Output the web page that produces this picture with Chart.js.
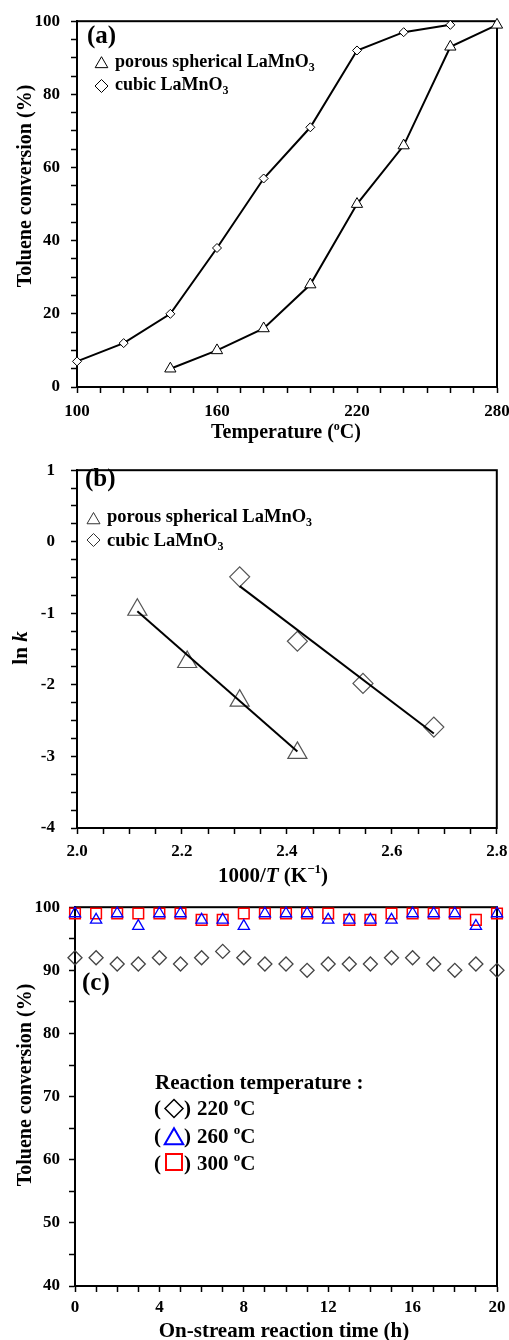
<!DOCTYPE html>
<html><head><meta charset="utf-8">
<script src="https://cdn.jsdelivr.net/npm/chart.js@4.4.1/dist/chart.umd.min.js"></script>
<style>
html,body{margin:0;padding:0;background:#fff;width:509px;height:1340px;overflow:hidden;}
.box{position:absolute;left:0;width:509px;}
canvas{display:block;}
</style></head><body>
<div class="box" style="top:0;height:448px"><canvas id="ca"></canvas></div>
<div class="box" style="top:444px;height:446px"><canvas id="cb"></canvas></div>
<div class="box" style="top:888px;height:452px"><canvas id="cc"></canvas></div>
<script>
// ---------- DATA ----------
// (a) light-off curves
const cubicTemp = [100, 120, 140, 160, 180, 200, 220, 240, 260];
const cubicConv = [7, 12, 20, 38, 57, 71, 92, 97, 99];
const porousTemp = [140, 160, 180, 200, 220, 240, 260, 280];
const porousConv = [5, 10, 16, 28, 50, 66, 93, 99];
// (b) Arrhenius plots
const porousInvT = [2.115, 2.21, 2.31, 2.42];
const porousLnK = [-0.95, -1.68, -2.22, -2.95];
const cubicInvT = [2.31, 2.42, 2.545, 2.68];
const cubicLnK = [-0.49, -1.39, -1.98, -2.59];
const porousFitX = [2.115, 2.42];
const porousFitY = [-0.97, -2.93];
const cubicFitX = [2.31, 2.68];
const cubicFitY = [-0.62, -2.68];
// (c) stability test
const hours = [0,1,2,3,4,5,6,7,8,9,10,11,12,13,14,15,16,17,18,19,20];
const conv220 = [92,92,91,91,92,91,92,93,92,91,91,90,91,91,91,92,92,91,90,91,90];
const conv260 = [99,98,99,97,99,99,98,98,97,99,99,99,98,98,98,98,99,99,99,97,99];
const conv300 = [99,99,99,99,99,99,98,98,99,99,99,99,99,98,98,99,99,99,99,98,99];

// ---------- HELPERS ----------
const SERIF = "'Liberation Serif','Times New Roman',serif";
const fnt = (s, i) => (i ? 'italic ' : '') + 'bold ' + s + 'px ' + SERIF;
const pts = (xs, ys) => xs.map((x, i) => ({x: x, y: ys[i]}));

function drawRich(ctx, parts, x, y, align) {
  let w = 0;
  for (const p of parts) { ctx.font = fnt(p.s, p.i); p.w = ctx.measureText(p.t).width; w += p.w; }
  let cx = align === 'center' ? x - w / 2 : x;
  ctx.textAlign = 'left'; ctx.textBaseline = 'alphabetic';
  for (const p of parts) { ctx.font = fnt(p.s, p.i); ctx.fillStyle = p.c || '#000'; ctx.fillText(p.t, cx, y + (p.dy || 0)); cx += p.w; }
  return cx;
}
function drawRotated(ctx, parts, cx, cy, baseX) {
  ctx.save(); ctx.translate(baseX, cy); ctx.rotate(-Math.PI / 2);
  drawRich(ctx, parts, 0, 0, 'center'); ctx.restore();
}
function sym(ctx, type, x, y, r, color, lw) {
  ctx.save(); ctx.strokeStyle = color; ctx.lineWidth = lw; ctx.beginPath();
  if (type === 'triangle') { const h = r * Math.sin(Math.PI / 3); ctx.moveTo(x, y - r); ctx.lineTo(x + h, y + r / 2); ctx.lineTo(x - h, y + r / 2); ctx.closePath(); }
  else if (type === 'diamond') { ctx.moveTo(x, y - r); ctx.lineTo(x + r, y); ctx.lineTo(x, y + r); ctx.lineTo(x - r, y); ctx.closePath(); }
  else { const s = r * Math.SQRT1_2; ctx.rect(x - s, y - s, 2 * s, 2 * s); }
  ctx.stroke(); ctx.restore();
}
const framePlugin = {
  id: 'frame',
  beforeDatasetsDraw(chart) {
    const {ctx, chartArea: a} = chart;
    ctx.save(); ctx.strokeStyle = '#000'; ctx.lineWidth = 2;
    ctx.strokeRect(a.left, a.top, a.right - a.left, a.bottom - a.top); ctx.restore();
  }
};

function axes(o) {
  const tickFont = {family: SERIF, size: o.tickSize || 17, weight: 'bold'};
  return {
    x: {
      type: 'linear', min: o.xmin, max: o.xmax,
      afterFit: s => { s.height = o.xh; s.paddingLeft = 0; s.paddingRight = 0; },
      border: {color: '#000', width: 2},
      grid: {drawOnChartArea: false, drawTicks: true, tickLength: 6, tickWidth: 1.5, tickColor: '#000'},
      ticks: {stepSize: o.xstep, autoSkip: false, maxRotation: 0, color: '#000', font: tickFont, padding: o.xpad, callback: o.xlab}
    },
    y: {
      type: 'linear', min: o.ymin, max: o.ymax,
      afterFit: s => { s.width = o.left; },
      border: {color: '#000', width: 2},
      grid: {drawOnChartArea: false, drawTicks: true, tickLength: 6, tickWidth: 1.5, tickColor: '#000'},
      ticks: {stepSize: o.ystep, autoSkip: false, color: '#000', font: tickFont, padding: o.ypad, callback: o.ylab}
    }
  };
}
const baseOpts = (pad, scales) => ({
  responsive: true, maintainAspectRatio: false, animation: false,
  layout: {padding: {top: pad.top, right: pad.right, left: 0, bottom: 0}},
  plugins: {legend: {display: false}, tooltip: {enabled: false}},
  scales: scales
});

// ---------- (a) ----------
new Chart(document.getElementById('ca'), {
  type: 'line',
  data: {datasets: [
    {data: pts(cubicTemp, cubicConv), borderColor: '#000', borderWidth: 2, pointStyle: 'rectRot', pointRadius: 4.5,
     pointBackgroundColor: '#fff', pointBorderColor: '#000', pointBorderWidth: 1, tension: 0, clip: false},
    {data: pts(porousTemp, porousConv), borderColor: '#000', borderWidth: 2, pointStyle: 'triangle', pointRadius: 6.5,
     pointBackgroundColor: '#fff', pointBorderColor: '#000', pointBorderWidth: 1, tension: 0, clip: false}
  ]},
  options: baseOpts({top: 19, right: 12}, axes({
    xmin: 100, xmax: 280, xstep: 10, xh: 61, xpad: 8, left: 77, ymin: 0, ymax: 100, ystep: 5, ypad: 11,
    xlab: v => ((v - 100) % 60 === 0 ? String(v) : ''),
    ylab: v => (v % 20 === 0 ? String(v) : '')
  })),
  plugins: [framePlugin, {
    id: 'txtA',
    afterDraw(chart) {
      const ctx = chart.ctx;
      drawRich(ctx, [{t: '(a)', s: 25}], 87, 43);
      sym(ctx, 'triangle', 101.5, 64, 7.3, '#000', 1);
      drawRich(ctx, [{t: 'porous spherical LaMnO', s: 18}, {t: '3', s: 12, dy: 4}], 115, 67);
      sym(ctx, 'diamond', 101.5, 86, 6.5, '#000', 1);
      drawRich(ctx, [{t: 'cubic LaMnO', s: 18}, {t: '3', s: 12, dy: 4}], 115, 90);
      drawRotated(ctx, [{t: 'Toluene conversion (%)', s: 20}], 0, 186, 31);
      drawRich(ctx, [{t: 'Temperature (', s: 20}, {t: 'o', s: 12, dy: -8}, {t: 'C)', s: 20}], 286, 438, 'center');
    }
  }]
});

// ---------- (b) ----------
new Chart(document.getElementById('cb'), {
  type: 'scatter',
  data: {datasets: [
    {type: 'line', data: pts(porousFitX, porousFitY), borderColor: '#000', borderWidth: 2, pointRadius: 0, showLine: true, clip: false},
    {type: 'line', data: pts(cubicFitX, cubicFitY), borderColor: '#000', borderWidth: 2, pointRadius: 0, showLine: true, clip: false},
    {data: pts(porousInvT, porousLnK), pointStyle: 'triangle', pointRadius: 11, pointBackgroundColor: 'rgba(0,0,0,0)',
     pointBorderColor: '#555', pointBorderWidth: 1.2, clip: false},
    {data: pts(cubicInvT, cubicLnK), pointStyle: 'rectRot', pointRadius: 10, pointBackgroundColor: 'rgba(0,0,0,0)',
     pointBorderColor: '#555', pointBorderWidth: 1.2, clip: false}
  ]},
  options: baseOpts({top: 15, right: 12}, axes({
    xmin: 2.0, xmax: 2.8, xstep: 0.05, xh: 62, xpad: 7, left: 77, ymin: -4, ymax: 1, ystep: 0.25, ypad: 16, tickSize: 17,
    xlab: v => (Math.round(v * 100) % 20 === 0 ? v.toFixed(1) : ''),
    ylab: v => (Math.abs(v - Math.round(v)) < 1e-9 ? String(Math.round(v)).replace('\u2212', '-') : '')
  })),
  plugins: [framePlugin, {
    id: 'txtB',
    afterDraw(chart) {
      const ctx = chart.ctx;
      drawRich(ctx, [{t: '(b)', s: 25}], 85, 42);
      sym(ctx, 'triangle', 93.5, 76, 7.5, '#333', 1);
      drawRich(ctx, [{t: 'porous spherical LaMnO', s: 18.5}, {t: '3', s: 12, dy: 4}], 107, 78);
      sym(ctx, 'diamond', 93.5, 96, 6.5, '#333', 1);
      drawRich(ctx, [{t: 'cubic LaMnO', s: 18.5}, {t: '3', s: 12, dy: 4}], 107, 102);
      drawRotated(ctx, [{t: 'ln ', s: 21}, {t: 'k', s: 21, i: true}], 0, 204, 27);
      drawRich(ctx, [{t: '1000/', s: 21}, {t: 'T', s: 21, i: true}, {t: ' (K', s: 21}, {t: '\u22121', s: 13, dy: -9}, {t: ')', s: 21}], 273, 438, 'center');
    }
  }]
});

// ---------- (c) ----------
new Chart(document.getElementById('cc'), {
  type: 'scatter',
  data: {datasets: [
    {data: pts(hours, conv220), pointStyle: 'rectRot', pointRadius: 7, pointBackgroundColor: 'rgba(0,0,0,0)',
     pointBorderColor: '#444', pointBorderWidth: 1.3, clip: false},
    {data: pts(hours, conv260), pointStyle: 'triangle', pointRadius: 6.5, pointBackgroundColor: 'rgba(0,0,0,0)',
     pointBorderColor: '#0000ff', pointBorderWidth: 1.3, clip: false},
    {data: pts(hours, conv300), pointStyle: 'rect', pointRadius: 7.5, pointBackgroundColor: 'rgba(0,0,0,0)',
     pointBorderColor: '#ff0000', pointBorderWidth: 1.5, clip: false}
  ]},
  options: baseOpts({top: 17, right: 12}, axes({
    xmin: 0, xmax: 20, xstep: 1, xh: 54, xpad: 5, left: 75, ymin: 40, ymax: 100, ystep: 5, ypad: 9,
    xlab: v => (v % 4 === 0 ? String(v) : ''),
    ylab: v => (v % 10 === 0 ? String(v) : '')
  })),
  plugins: [framePlugin, {
    id: 'txtC',
    afterDraw(chart) {
      const ctx = chart.ctx;
      const o = 888;
      drawRich(ctx, [{t: '(c)', s: 25}], 82, 990 - o);
      drawRich(ctx, [{t: 'Reaction temperature :', s: 21}], 155, 1089 - o);
      const rows = [
        {type: 'diamond', r: 9, cy: 1108.5, col: '#000', lw: 1.5, label: '220 ', base: 1115},
        {type: 'triangle', r: 10.7, cy: 1139, col: '#0000ff', lw: 2, label: '260 ', base: 1143},
        {type: 'rect', r: 11.3, cy: 1162, col: '#ff0000', lw: 2, label: '300 ', base: 1170}
      ];
      for (const r of rows) {
        drawRich(ctx, [{t: '(', s: 21}], 154, r.base - o);
        sym(ctx, r.type, 174, r.cy - o, r.r, r.col, r.lw);
        drawRich(ctx, [{t: ')', s: 21}], 184, r.base - o);
        drawRich(ctx, [{t: r.label, s: 21}, {t: 'o', s: 13, dy: -9}, {t: 'C', s: 21}], 197, r.base - o);
      }
      drawRotated(ctx, [{t: 'Toluene conversion (%)', s: 20}], 0, 1085 - o, 31);
      drawRich(ctx, [{t: 'On-stream reaction time (h)', s: 21}], 284, 449, 'center');
    }
  }]
});
</script>
</body></html>
